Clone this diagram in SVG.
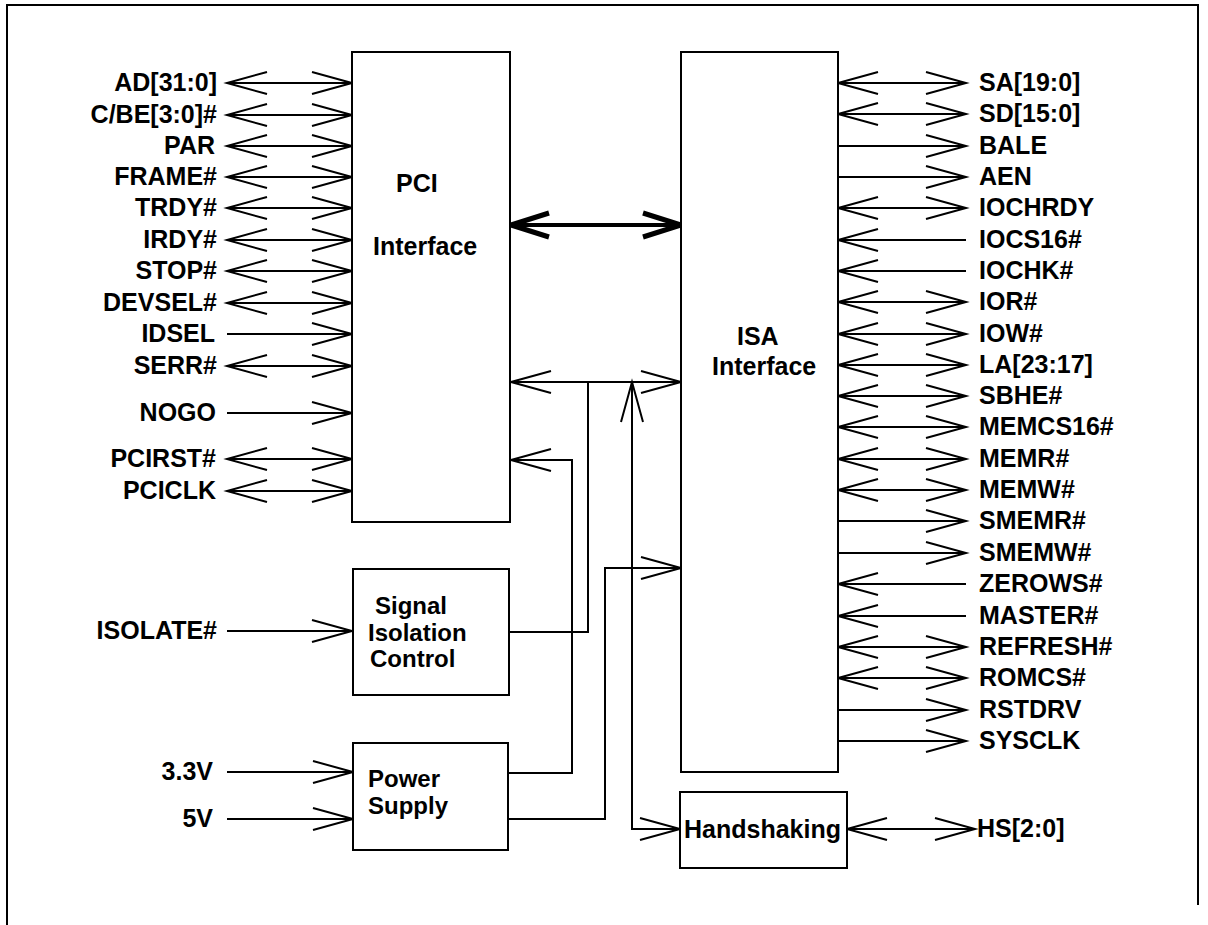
<svg xmlns="http://www.w3.org/2000/svg" width="1208" height="925" viewBox="0 0 1208 925">
<style>
text{font-family:"Liberation Sans",Arial,sans-serif;font-weight:bold;font-size:25px;fill:#000}
.r{text-anchor:end}
.s{font-size:24px}
.box{fill:#fff;stroke:#000;stroke-width:2}
.w{fill:none;stroke:#000;stroke-width:2}
.bi{marker-start:url(#a);marker-end:url(#a)}
.o{marker-end:url(#a)}
.i{marker-start:url(#a)}
</style>
<defs>
<marker id="a" markerUnits="userSpaceOnUse" markerWidth="44" markerHeight="26" refX="40" refY="11" orient="auto-start-reverse" overflow="visible" viewBox="0 0 44 26">
<path d="M0,0 L40,11 L0,22" fill="none" stroke="#000" stroke-width="2"/>
</marker>
<marker id="t" markerUnits="userSpaceOnUse" markerWidth="44" markerHeight="30" refX="38" refY="12" orient="auto-start-reverse" overflow="visible" viewBox="0 0 44 30">
<path d="M0,0 L38,12 L0,24" fill="none" stroke="#000" stroke-width="5"/>
</marker>
</defs>
<rect width="1208" height="925" fill="#fff"/>
<path d="M7,925 V5 H1198 V905" fill="none" stroke="#000" stroke-width="2"/>

<g id="connectors">
<line class="w bi" x1="227" y1="83" x2="352" y2="83"/>
<line class="w bi" x1="227" y1="115" x2="352" y2="115"/>
<line class="w bi" x1="227" y1="146" x2="352" y2="146"/>
<line class="w bi" x1="227" y1="177" x2="352" y2="177"/>
<line class="w bi" x1="227" y1="208" x2="352" y2="208"/>
<line class="w bi" x1="227" y1="240" x2="352" y2="240"/>
<line class="w bi" x1="227" y1="271" x2="352" y2="271"/>
<line class="w bi" x1="227" y1="303" x2="352" y2="303"/>
<line class="w o" x1="227" y1="334" x2="352" y2="334"/>
<line class="w bi" x1="227" y1="366" x2="352" y2="366"/>
<line class="w o" x1="227" y1="413" x2="352" y2="413"/>
<line class="w bi" x1="227" y1="459" x2="352" y2="459"/>
<line class="w bi" x1="227" y1="491" x2="352" y2="491"/>
<line class="w o" x1="227" y1="631" x2="352" y2="631"/>
<line class="w o" x1="227" y1="772" x2="353" y2="772"/>
<line class="w o" x1="227" y1="819" x2="353" y2="819"/>
<line class="w bi" x1="838" y1="83" x2="966" y2="83"/>
<line class="w bi" x1="838" y1="114" x2="966" y2="114"/>
<line class="w o" x1="838" y1="146" x2="966" y2="146"/>
<line class="w o" x1="838" y1="177" x2="966" y2="177"/>
<line class="w bi" x1="838" y1="208" x2="966" y2="208"/>
<line class="w i" x1="838" y1="240" x2="966" y2="240"/>
<line class="w i" x1="838" y1="271" x2="966" y2="271"/>
<line class="w bi" x1="838" y1="302" x2="966" y2="302"/>
<line class="w bi" x1="838" y1="334" x2="966" y2="334"/>
<line class="w bi" x1="838" y1="365" x2="966" y2="365"/>
<line class="w bi" x1="838" y1="396" x2="966" y2="396"/>
<line class="w bi" x1="838" y1="427" x2="966" y2="427"/>
<line class="w bi" x1="838" y1="459" x2="966" y2="459"/>
<line class="w bi" x1="838" y1="490" x2="966" y2="490"/>
<line class="w o" x1="838" y1="521" x2="966" y2="521"/>
<line class="w o" x1="838" y1="553" x2="966" y2="553"/>
<line class="w i" x1="838" y1="584" x2="966" y2="584"/>
<line class="w i" x1="838" y1="616" x2="966" y2="616"/>
<line class="w bi" x1="838" y1="647" x2="966" y2="647"/>
<line class="w bi" x1="838" y1="678" x2="966" y2="678"/>
<line class="w o" x1="838" y1="710" x2="966" y2="710"/>
<line class="w o" x1="838" y1="741" x2="966" y2="741"/>
<line x1="511" y1="225" x2="681" y2="225" fill="none" stroke="#000" stroke-width="4" marker-start="url(#t)" marker-end="url(#t)"/>
<line class="w bi" x1="511" y1="382" x2="681" y2="382"/>
<polyline class="w" points="509,632 588,632 588,382"/>
<polyline class="w o" points="508,773 572,773 572,460 511,460"/>
<polyline class="w o" points="508,819 605,819 605,568 681,568"/>
<polyline class="w i o" points="632,382 632,829 680,829"/>
<line class="w bi" x1="847" y1="829" x2="975" y2="829"/>
</g>

<g id="pci">
<rect class="box" x="352" y="52" width="158" height="470"/>
<text x="396" y="192">PCI</text>
<text x="373" y="255">Interface</text>
</g>
<g id="isa">
<rect class="box" x="681" y="52" width="157" height="720"/>
<text x="737" y="345">ISA</text>
<text x="712" y="375">Interface</text>
</g>
<g id="isolation">
<rect class="box" x="353" y="569" width="156" height="126"/>
<text class="s" x="375" y="614">Signal</text>
<text class="s" x="368" y="641">Isolation</text>
<text class="s" x="370" y="667">Control</text>
</g>
<g id="power">
<rect class="box" x="353" y="743" width="155" height="107"/>
<text class="s" x="368" y="787">Power</text>
<text class="s" x="368" y="814">Supply</text>
</g>
<g id="handshaking">
<rect class="box" x="680" y="792" width="167" height="76"/>
<text x="684" y="838">Handshaking</text>
</g>

<g id="left-labels">
<text class="r" x="217" y="91">AD[31:0]</text>
<text class="r" x="217" y="123">C/BE[3:0]#</text>
<text class="r" x="215" y="154">PAR</text>
<text class="r" x="217" y="185">FRAME#</text>
<text class="r" x="217" y="216">TRDY#</text>
<text class="r" x="217" y="248">IRDY#</text>
<text class="r" x="217" y="279">STOP#</text>
<text class="r" x="217" y="311">DEVSEL#</text>
<text class="r" x="215" y="342">IDSEL</text>
<text class="r" x="217" y="374">SERR#</text>
<text class="r" x="216" y="421">NOGO</text>
<text class="r" x="216" y="467">PCIRST#</text>
<text class="r" x="216" y="499">PCICLK</text>
<text class="r" x="217" y="639">ISOLATE#</text>
<text class="r" x="213" y="780">3.3V</text>
<text class="r" x="213" y="827">5V</text>
</g>
<g id="right-labels">
<text x="979" y="91">SA[19:0]</text>
<text x="979" y="122">SD[15:0]</text>
<text x="979" y="154">BALE</text>
<text x="979" y="185">AEN</text>
<text x="979" y="216">IOCHRDY</text>
<text x="979" y="248">IOCS16#</text>
<text x="979" y="279">IOCHK#</text>
<text x="979" y="310">IOR#</text>
<text x="979" y="342">IOW#</text>
<text x="979" y="373">LA[23:17]</text>
<text x="979" y="404">SBHE#</text>
<text x="979" y="435">MEMCS16#</text>
<text x="979" y="467">MEMR#</text>
<text x="979" y="498">MEMW#</text>
<text x="979" y="529">SMEMR#</text>
<text x="979" y="561">SMEMW#</text>
<text x="979" y="592">ZEROWS#</text>
<text x="979" y="624">MASTER#</text>
<text x="979" y="655">REFRESH#</text>
<text x="979" y="686">ROMCS#</text>
<text x="979" y="718">RSTDRV</text>
<text x="979" y="749">SYSCLK</text>
<text x="977" y="837">HS[2:0]</text>
</g>
</svg>
